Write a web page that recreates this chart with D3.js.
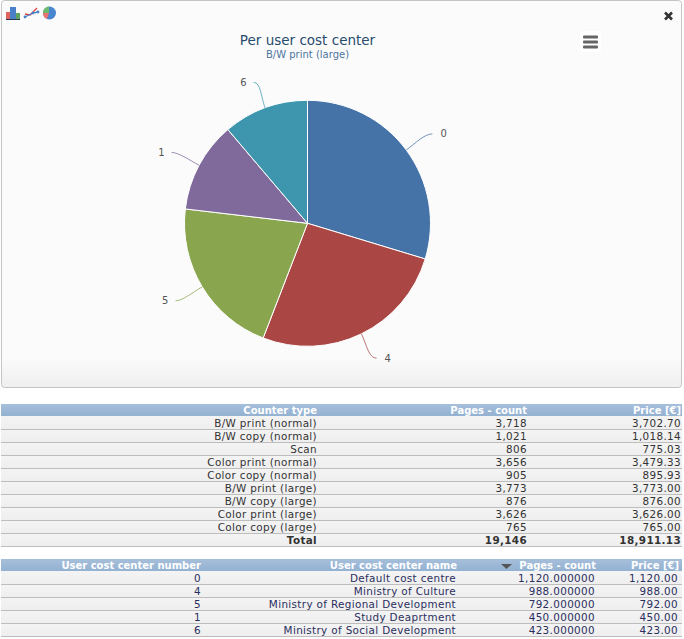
<!DOCTYPE html>
<html>
<head>
<meta charset="utf-8">
<script src="https://cdnjs.cloudflare.com/ajax/libs/d3/7.8.5/d3.min.js"></script>
<style>
body { margin: 0; background: #fff; overflow: hidden; }
text { font-family: "DejaVu Sans", sans-serif; }
</style>
</head>
<body>
<script>
// pie data
var centers = ["0", "4", "5", "1", "6"];
var pages = [1120, 988, 792, 450, 423];
var colors = ["#4572a7", "#aa4643", "#89a54e", "#80699b", "#3d96ae"];

// counter table
var counterHead = ["Counter type", "Pages - count", "Price [€]"];
var counterTypes = ["B/W print (normal)", "B/W copy (normal)", "Scan", "Color print (normal)", "Color copy (normal)", "B/W print (large)", "B/W copy (large)", "Color print (large)", "Color copy (large)", "Total"];
var counterPages = [3718, 1021, 806, 3656, 905, 3773, 876, 3626, 765, 19146];
var counterPrice = [3702.70, 1018.14, 775.03, 3479.33, 895.93, 3773.00, 876.00, 3626.00, 765.00, 18911.13];

// cost center table
var centerHead = ["User cost center number", "User cost center name", "Pages - count", "Price [€]"];
var centerNames = ["Default cost centre", "Ministry of Culture", "Ministry of Regional Development", "Study Deaprtment", "Ministry of Social Development"];
var centerPrice = [1120.00, 988.00, 792.00, 450.00, 423.00];

var svg = d3.select("body").append("svg")
    .attr("width", 684)
    .attr("height", 639)
    .style("display", "block");

var defs = svg.append("defs");

function gradient(id, stops) {
  var g = defs.append("linearGradient").attr("id", id)
      .attr("x1", 0).attr("y1", 0).attr("x2", 0).attr("y2", 1);
  stops.forEach(function(s) {
    g.append("stop").attr("offset", s[0]).attr("stop-color", s[1]);
  });
}
gradient("panelBg", [[0, "#fbfbfc"], [0.92, "#fbfbfc"], [1, "#efefef"]]);
gradient("headBg", [[0, "#a6bfdb"], [1, "#93b1d1"]]);
gradient("rowBg", [[0, "#f4f4f4"], [1, "#eeeeee"]]);

// panel
svg.append("rect")
    .attr("x", 1.5).attr("y", 0.5)
    .attr("width", 680).attr("height", 387)
    .attr("rx", 3)
    .attr("fill", "url(#panelBg)")
    .attr("stroke", "#c4c4c4");

// toolbar icons
var icons = svg.append("g");
icons.append("rect").attr("x", 6).attr("y", 12).attr("width", 4).attr("height", 7).attr("fill", "#e0645c");
icons.append("rect").attr("x", 10).attr("y", 7).attr("width", 6).attr("height", 12).attr("fill", "#4a80c8");
icons.append("rect").attr("x", 16).attr("y", 13).attr("width", 4).attr("height", 6).attr("fill", "#5fa35f");
icons.append("path").attr("d", "M6 19.5H20").attr("stroke", "#2a3a55").attr("fill", "none");
icons.append("path").attr("d", "M25 14L30 15L37 8").attr("stroke", "#e0403c").attr("stroke-width", 1.3).attr("fill", "none");
icons.append("path").attr("d", "M25 17L33 13L38 12").attr("stroke", "#4a80c4").attr("stroke-width", 1.3).attr("fill", "none");
icons.selectAll("circle.dot").data([[25, 17], [33, 13], [38, 12]]).enter().append("circle")
    .attr("cx", function(d) { return d[0]; })
    .attr("cy", function(d) { return d[1]; })
    .attr("r", 1.4)
    .attr("fill", "#4a80c4");
icons.append("circle").attr("cx", 49.5).attr("cy", 13).attr("r", 6.5).attr("fill", "#4a86cf");
icons.append("path").attr("d", "M49 13L49 6.5A6.5 6.5 0 0 0 43 13Z").attr("fill", "#6cbb6c");
icons.append("path").attr("d", "M49 13L43 13A6.5 6.5 0 0 0 47 19Z").attr("fill", "#ee7070");

// close and menu buttons
svg.append("path")
    .attr("d", "M665 12.5L672 19.5M672 12.5L665 19.5")
    .attr("stroke", "#333").attr("stroke-width", 2.6).attr("fill", "none");
svg.append("rect")
    .attr("x", 580).attr("y", 31)
    .attr("width", 21).attr("height", 21).attr("rx", 2)
    .attr("fill", "#fff");
svg.selectAll("rect.menu").data([0, 1, 2]).enter().append("rect")
    .attr("class", "menu")
    .attr("x", 583)
    .attr("y", function(d) { return 35.5 + d * 5; })
    .attr("width", 15).attr("height", 3).attr("rx", 1)
    .attr("fill", "#666");

// titles
svg.append("text").attr("x", 307.5).attr("y", 45)
    .attr("text-anchor", "middle")
    .attr("font-size", 13.5)
    .attr("fill", "#274b6d")
    .text("Per user cost center");
svg.append("text").attr("x", 307.5).attr("y", 58)
    .attr("text-anchor", "middle")
    .attr("font-size", 10)
    .attr("fill", "#4d759e")
    .text("B/W print (large)");

// pie
var cx = 307.5, cy = 223.3, radius = 123;
var pie = d3.pie().sort(null)(pages);
var arc = d3.arc().innerRadius(0).outerRadius(radius);
var plot = svg.append("g").attr("transform", "translate(" + cx + "," + cy + ")");

plot.selectAll("path.slice").data(pie).enter().append("path")
    .attr("class", "slice")
    .attr("d", arc)
    .attr("fill", function(d, i) { return colors[i]; })
    .attr("stroke", "#fff")
    .attr("stroke-width", 1);

var polar = function(angle, r) {
  return [Math.sin(angle) * r, -Math.cos(angle) * r];
};
var midAngle = function(d) {
  return (d.startAngle + d.endAngle) / 2;
};
// where a label sits: x from a wider circle than y
var labelAnchor = function(d) {
  var a = midAngle(d);
  return [polar(a, radius + 30)[0], polar(a, radius + 27)[1]];
};

// soft connectors from the rim to the labels
var connector = function(d) {
  var a = midAngle(d);
  var side = Math.sin(a) > 0 ? 1 : -1;
  var end = labelAnchor(d);
  var bend = polar(a, radius + 12);
  var touch = polar(a, radius);
  return "M" + (end[0] + (side > 0 ? 2 : -1)) + " " + end[1] +
      "C" + (end[0] - side * 6) + " " + end[1] + " " + bend[0] + " " + bend[1] + " " + touch[0] + " " + touch[1];
};

plot.selectAll("path.link").data(pie).enter().append("path")
    .attr("class", "link")
    .attr("d", connector)
    .attr("fill", "none")
    .attr("stroke", function(d, i) { return colors[i]; })
    .attr("stroke-opacity", 0.75);

plot.selectAll("text.label").data(pie).enter().append("text")
    .attr("class", "label")
    .attr("x", function(d) {
      return labelAnchor(d)[0] + (Math.sin(midAngle(d)) > 0 ? 10 : -8);
    })
    .attr("y", function(d) { return labelAnchor(d)[1] + 3.5; })
    .attr("text-anchor", function(d) {
      return Math.sin(midAngle(d)) > 0 ? "start" : "end";
    })
    .attr("font-size", 10)
    .attr("fill", "#555")
    .text(function(d, i) { return centers[i]; });

// tables
var count = d3.format(",");
var money = d3.format(",.2f");
var sixDigits = d3.format(",.6f");

function drawTable(opt) {
  var y = d3.scaleBand()
      .domain(d3.range(opt.rows.length))
      .range([opt.top + 13, opt.top + 13 + opt.rows.length * 13]);

  svg.append("rect")
      .attr("x", 1).attr("y", opt.top)
      .attr("width", 681).attr("height", 12)
      .attr("fill", "url(#headBg)");

  opt.head.forEach(function(label, i) {
    svg.append("text")
        .attr("x", opt.headRight[i]).attr("y", opt.top + 10)
        .attr("text-anchor", "end")
        .attr("font-size", 10)
        .attr("font-weight", "bold")
        .attr("fill", "#fff")
        .text(label);
  });

  var row = svg.selectAll(null).data(opt.rows).enter().append("g")
      .attr("transform", function(d, i) { return "translate(0," + y(i) + ")"; });

  row.append("rect")
      .attr("x", 1).attr("width", 681).attr("y", -1).attr("height", 14)
      .attr("fill", "url(#rowBg)");

  row.each(function(cells, r) {
    var g = d3.select(this);
    cells.forEach(function(c, i) {
      g.append("text")
          .attr("x", opt.right[i]).attr("y", 10)
          .attr("text-anchor", "end")
          .attr("font-size", 10.4)
          .attr("letter-spacing", 0.35)
          .attr("font-weight", opt.boldLast && r == opt.rows.length - 1 ? "bold" : "normal")
          .attr("fill", opt.ink)
          .text(c);
    });
  });

  // the rules go in a group on top, each row's fill would cover the last rule
  svg.append("g").selectAll("line").data(opt.rows).enter().append("line")
      .attr("x1", 1).attr("x2", 682)
      .attr("y1", function(d, i) { return y(i) + 12.5; })
      .attr("y2", function(d, i) { return y(i) + 12.5; })
      .attr("stroke", "#bdbdbd");
}

drawTable({
  top: 404,
  head: counterHead,
  headRight: [317, 527, 681],
  right: [317, 527, 681],
  ink: "#333",
  boldLast: true,
  rows: counterTypes.map(function(d, i) {
    return [d, count(counterPages[i]), money(counterPrice[i])];
  })
});

drawTable({
  top: 559,
  head: centerHead,
  headRight: [201, 457, 596, 679],
  right: [201, 456, 595, 678],
  ink: "#2b2f5e",
  boldLast: false,
  rows: centers.map(function(d, i) {
    return [d, centerNames[i], sixDigits(pages[i]), money(centerPrice[i])];
  })
});

// sort marker
svg.append("path")
    .attr("d", d3.line()([[501, 564], [512, 564], [506.5, 569]]) + "Z")
    .attr("fill", "#555");
</script>
</body>
</html>
